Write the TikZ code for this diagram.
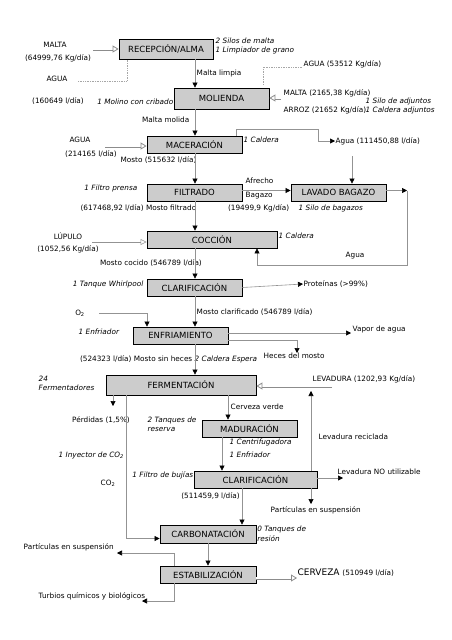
\documentclass[tikz,border=0pt]{standalone}
\usepackage{fontspec}
\setmainfont{DejaVu Sans}
\usetikzlibrary{arrows.meta}

\begin{document}
\begin{tikzpicture}[x=1pt,y=-1pt,
  box/.style={draw=black, line width=0.8pt, fill=gray!40, inner sep=0pt,
    minimum width=95pt, minimum height=17pt, font=\fontsize{8.5}{10}\selectfont},
  lbl/.style={font=\fontsize{7.3}{8}\selectfont, inner sep=0.5pt},
  equipo/.style={font=\fontsize{7.3}{8}\selectfont\itshape, inner sep=0.5pt},
  flow/.style={draw=gray!85, line width=0.6pt, -{Triangle[black,length=5pt,width=5pt]}},
  dots/.style={draw=gray!70, densely dotted, line width=0.7pt},
  hollow/.style={draw=gray!90, line width=0.8pt, double=white, double distance=1.4pt,
    -{Triangle[open,length=6pt,width=7pt]}},
  opentip/.style={draw=gray!85, line width=0.6pt, -{Triangle[open,length=6pt,width=6pt]}}]

  \useasboundingbox (0,0) rectangle (452,640);
  \coordinate (spine) at (195,0);

  % Etiquetas que quedan bajo las cajas
  \node[equipo, anchor=west] (ePres1) at (252,529) {90 Tanques de};
  \node[equipo, anchor=west] (ePres2) at (252,539) {presión};

  % Etapas del proceso
  \node[box, minimum width=94pt, minimum height=20pt] (recep) at (166,49) {RECEPCIÓN/ALMA};
  \node[box, minimum height=21pt] (molienda) at (221.5,98.5) {MOLIENDA};
  \node[box] (macer) at (194.5,144.5) {MACERACIÓN};
  \node[box] (filtrado) at (194.5,192.5) {FILTRADO};
  \node[box] (lavado) at (338.5,192.5) {LAVADO BAGAZO};
  \node[box, minimum width=130pt] (coccion) at (212,239.5) {COCCIÓN};
  \node[box] (clarif) at (194.5,287.5) {CLARIFICACIÓN};
  \node[box] (enfri) at (180.5,335.5) {ENFRIAMIENTO};
  \node[box, minimum width=150pt, minimum height=20pt] (ferment) at (181,385) {FERMENTACIÓN};
  \node[box] (madur) at (249.5,428.5) {MADURACIÓN};
  \node[box, minimum width=123pt] (clarifB) at (255.5,479.5) {CLARIFICACIÓN};
  \node[box, minimum width=96pt, minimum height=18pt] (carbon) at (208,534) {CARBONATACIÓN};
  \node[box, minimum width=96pt] (estab) at (208,574.5) {ESTABILIZACIÓN};

  % Recepcion y molienda
  \node[lbl] (tMalta) at (55,45) {MALTA};
  \node[lbl] (tMaltaQ) at (58,58) {(64999,76 Kg/día)};
  \node[lbl] (tAguaA) at (57,79) {AGUA};
  \node[lbl] (tAguaAQ) at (58,101) {(160649 l/día)};
  \node[equipo, anchor=west] (eSilos) at (215,41) {2 Silos de malta};
  \node[equipo, anchor=west] (eLimp) at (215,50) {1 Limpiador de grano};
  \node[lbl, anchor=west] (tLimpia) at (196,73) {Malta limpia};
  \node[equipo, anchor=east] (eMolino) at (174,102) {1 Molino con cribado};
  \node[lbl, anchor=west] (tAguaB) at (303,64) {AGUA (53512 Kg/día)};
  \node[lbl, anchor=west] (tMaltaB) at (283,93) {MALTA (2165,38 Kg/día)};
  \node[lbl, anchor=west] (tArroz) at (283,110) {ARROZ (21652 Kg/día)};
  \node[equipo, anchor=west] (eAdj1) at (365,101) {1 Silo de adjuntos};
  \node[equipo, anchor=west] (eAdj2) at (365,110) {1 Caldera adjuntos};
  \node[lbl, anchor=east] (tMolida) at (190,120) {Malta molida};

  \coordinate (inMalta) at (93,49);
  \coordinate (inAguaA) at (78,81);
  \coordinate (kAguaA) at (127,60);
  \coordinate (inAguaB) at (302,67);
  \coordinate (xAguaB) at (263,0);
  \coordinate (inAdj) at (281,98);
  \draw[hollow] (inMalta) -- (recep.west |- inMalta);
  \draw[dots] (inAguaA) -| (kAguaA);
  \draw[dots, shorten >=2pt] (inAguaB) -| (molienda.north -| xAguaB);
  \draw[hollow] (inAdj) -- (molienda.east |- inAdj);
  \draw[flow] (recep.south -| spine) -- (molienda.north -| spine);
  \draw[flow] (molienda.south -| spine) -- (macer.north -| spine);

  % Maceracion, filtrado y lavado
  \node[lbl] (tAguaC) at (80,140) {AGUA};
  \node[lbl] (tAguaCQ) at (91,154) {(214165 l/día)};
  \node[equipo, anchor=west] (eCalA) at (243,140) {1 Caldera};
  \node[lbl, anchor=west] (tAguaD) at (335,141) {Agua (111450,88 l/día)};
  \node[lbl] (tMosto) at (158.5,160) {Mosto (515632 l/día)};
  \node[equipo, anchor=east] (eFiltro) at (138,188) {1 Filtro prensa};
  \node[lbl, anchor=west] (tAfrecho) at (245,181) {Afrecho};
  \node[lbl, anchor=west] (tBagazo) at (245,196) {Bagazo};
  \node[lbl, anchor=east] (tMostoF) at (197,208) {(617468,92 l/día) Mosto filtrado};
  \node[lbl, anchor=east] (tBagazoQ) at (290,208) {(19499,9 Kg/día)};
  \node[equipo, anchor=west] (eSilo) at (298,208) {1 Silo de bagazos};

  \coordinate (inAguaC) at (105,146);
  \coordinate (kMacer) at (236,129);
  \coordinate (xLav) at (352,0);
  \coordinate (kLav) at (407,190.5);
  \coordinate (kRet) at (257,265);
  \draw[hollow] (inAguaC) -- (macer.west |- inAguaC);
  \draw[flow] (macer.north -| kMacer) |- (318,129) |- (tAguaD.west);
  \draw[flow, shorten <=11pt] (tAguaD.south -| xLav) -- (lavado.north -| xLav);
  \draw[flow] (macer.south -| spine) -- (filtrado.north -| spine);
  \draw[flow] ([yshift=2pt]filtrado.east) -- ([yshift=2pt]lavado.west);
  \draw[flow] (lavado.east |- kLav) -- (kLav);
  \draw[flow] (kLav) |- (kRet) -- (coccion.south -| kRet);
  \draw[flow] (filtrado.south -| spine) -- (coccion.north -| spine);

  % Coccion y clarificacion
  \node[lbl] (tLupulo) at (68,236) {LÚPULO};
  \node[lbl] (tLupuloQ) at (68,249) {(1052,56 Kg/día)};
  \node[equipo, anchor=west] (eCalB) at (278,236) {1 Caldera};
  \node[lbl, anchor=west] (tAguaE) at (345,256) {Agua};
  \node[lbl] (tMostoC) at (151,263) {Mosto cocido (546789 l/día)};
  \node[equipo, anchor=east] (eWhirl) at (144,284) {1 Tanque Whirlpool};
  \node[lbl, anchor=west] (tProt) at (303,284) {Proteínas (>99\%)};

  \coordinate (inLupulo) at (92,242);
  \draw[opentip] (inLupulo) -- (coccion.west |- inLupulo);
  \draw[flow] (coccion.south -| spine) -- (clarif.north -| spine);
  \draw[flow] (clarif.east) -- (tProt.west);

  % Enfriamiento
  \node[lbl, anchor=west] (tMostoCl) at (196,312) {Mosto clarificado (546789 l/día)};
  \node[lbl] (tO2) at (80,313) {O\textsubscript{2}};
  \node[equipo, anchor=west] (eEnfrA) at (78,332) {1 Enfriador};
  \node[lbl, anchor=west] (tVapor) at (352,329) {Vapor de agua};
  \node[lbl, anchor=west] (tHeces) at (263,356) {Heces del mosto};
  \node[lbl, anchor=east] (tMostoSH) at (193,359) {(524323 l/día) Mosto sin heces};
  \node[equipo, anchor=west] (eEspera) at (194,359) {2 Caldera Espera};

  \coordinate (inO2) at (99,313);
  \coordinate (xO2) at (147,0);
  \coordinate (outVapor) at (351,333);
  \coordinate (outHeces) at (297,353);
  \draw[flow] (clarif.south -| spine) -- (enfri.north -| spine);
  \draw[flow] (inO2) -| (enfri.north -| xO2);
  \draw[flow] (enfri.east |- outVapor) -- (outVapor);
  \draw[flow] ([yshift=-4.5pt]enfri.east) -| (outHeces);
  \draw[flow] (enfri.south -| spine) -- (ferment.north -| spine);

  % Fermentacion y maduracion
  \node[equipo, anchor=west] (eFermA) at (38,379) {24};
  \node[equipo, anchor=west] (eFermB) at (38,388) {Fermentadores};
  \node[lbl, anchor=west] (tLev) at (312,379) {LEVADURA (1202,93 Kg/día)};
  \node[lbl] (tPerd) at (101,420) {Pérdidas (1,5\%)};
  \node[lbl, anchor=west] (tVerde) at (230,407) {Cerveza verde};
  \node[equipo, anchor=west] (eTanqA) at (147,420) {2 Tanques de};
  \node[equipo, anchor=west] (eTanqB) at (147,430) {reserva};
  \node[lbl, anchor=west] (tLevRec) at (318,437) {Levadura reciclada};
  \node[equipo, anchor=west] (eCentr) at (229,442) {1 Centrifugadora};
  \node[equipo, anchor=west] (eEnfrB) at (229,455) {1 Enfriador};
  \node[equipo, anchor=west] (eIny) at (58,455) {1 Inyector de CO\textsubscript{2}};
  \node[lbl] (tCO2) at (108,483) {CO\textsubscript{2}};

  \coordinate (inLev) at (332,386);
  \coordinate (kRec) at (311,391);
  \coordinate (outPerd) at (113,406);
  \coordinate (xMad) at (228,0);
  \coordinate (xCO2) at (126,0);
  \coordinate (xClB) at (222,0);
  \draw[hollow] (inLev) -- (ferment.east |- inLev);
  \draw[flow] (clarifB.north -| kRec) -- (kRec);
  \draw[flow] (ferment.south -| outPerd) -- (outPerd);
  \draw[flow] (ferment.south -| xMad) -- (madur.north -| xMad);
  \draw[flow] (ferment.south -| xCO2) |- ([yshift=-4.5pt]carbon.west);
  \draw[flow] (madur.south -| xClB) -- (clarifB.north -| xClB);

  % Clarificacion, carbonatacion y estabilizacion
  \node[equipo, anchor=east] (eBuj) at (194,475) {1 Filtro de bujías};
  \node[lbl, anchor=west] (tLevNO) at (337,472) {Levadura NO utilizable};
  \node[lbl, anchor=west] (tPartA) at (270,510) {Partículas en suspensión};
  \node[lbl] (tClQ) at (210.5,496) {(511459,9 l/día)};
  \node[lbl, anchor=west] (tPartB) at (23,547) {Partículas en suspensión};
  \node[lbl, anchor=west] (tTurb) at (38,596) {Turbios químicos y biológicos};
  \node[anchor=west, inner sep=0.5pt, font=\fontsize{9}{10}\selectfont] (tCerv) at (297,573)
    {CERVEZA {\fontsize{7.3}{8}\selectfont (510949 l/día)}};

  \coordinate (outLevNO) at (343,478);
  \coordinate (outPartA) at (311,504);
  \coordinate (xCarb) at (242,0);
  \coordinate (xEst) at (174,0);
  \coordinate (outPartB) at (117,553);
  \coordinate (outTurb) at (142,601);
  \coordinate (outCerv) at (297,578);
  \draw[flow] (clarifB.east |- outLevNO) -- (outLevNO);
  \draw[flow] (clarifB.south -| outPartA) -- (outPartA);
  \draw[flow] (clarifB.south -| xCarb) -- (carbon.north -| xCarb);
  \draw[flow] (carbon.south) -- (estab.north);
  \draw[flow] (estab.north -| xEst) |- (outPartB);
  \draw[flow] (estab.south -| xEst) |- (outTurb);
  \draw[hollow] (estab.east |- outCerv) -- (outCerv);
\end{tikzpicture}
\end{document}
